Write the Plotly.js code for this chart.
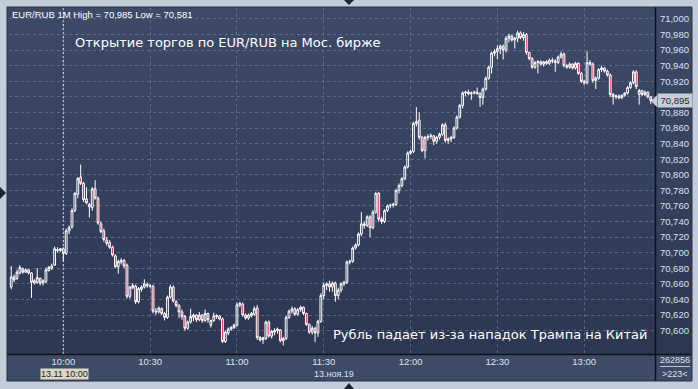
<!DOCTYPE html>
<html><head><meta charset="utf-8">
<script src="https://cdn.plot.ly/plotly-3.0.1.min.js"></script>
<style>html,body{margin:0;padding:0;background:#c3cdd9;}#chart{width:698px;height:389px;}</style>
</head><body><div id="chart"></div>
<script>
const day = "2019-11-13";
const times = [
"09:42","09:43","09:44","09:45","09:46","09:47","09:48","09:49","09:50","09:51","09:52","09:53","09:54","09:55","09:56","09:57","09:58","09:59",
"10:00","10:01","10:02","10:03","10:04","10:05","10:06","10:07","10:08","10:09","10:10","10:11","10:12","10:13","10:14","10:15","10:16","10:17","10:18","10:19",
"10:20","10:21","10:22","10:23","10:24","10:25","10:26","10:27","10:28","10:29","10:30","10:31","10:32","10:33","10:34","10:35","10:36","10:37","10:38","10:39",
"10:40","10:41","10:42","10:43","10:44","10:45","10:46","10:47","10:48","10:49","10:50","10:51","10:52","10:53","10:54","10:55","10:56","10:57","10:58","10:59",
"11:00","11:01","11:02","11:03","11:04","11:05","11:06","11:07","11:08","11:09","11:10","11:11","11:12","11:13","11:14","11:15","11:16","11:17","11:18","11:19",
"11:20","11:21","11:22","11:23","11:24","11:25","11:26","11:27","11:28","11:29","11:30","11:31","11:32","11:33","11:34","11:35","11:36","11:37","11:38","11:39",
"11:40","11:41","11:42","11:43","11:44","11:45","11:46","11:47","11:48","11:49","11:50","11:51","11:52","11:53","11:54","11:55","11:56","11:57","11:58","11:59",
"12:00","12:01","12:02","12:03","12:04","12:05","12:06","12:07","12:08","12:09","12:10","12:11","12:12","12:13","12:14","12:15","12:16","12:17","12:18","12:19",
"12:20","12:21","12:22","12:23","12:24","12:25","12:26","12:27","12:28","12:29","12:30","12:31","12:32","12:33","12:34","12:35","12:36","12:37","12:38","12:39",
"12:40","12:41","12:42","12:43","12:44","12:45","12:46","12:47","12:48","12:49","12:50","12:51","12:52","12:53","12:54","12:55","12:56","12:57","12:58","12:59",
"13:00","13:01","13:02","13:03","13:04","13:05","13:06","13:07","13:08","13:09","13:10","13:11","13:12","13:13","13:14","13:15","13:16","13:17","13:18","13:19",
"13:20","13:21","13:22","13:23"];
const opens = [
70.656,70.669,70.667,70.674,70.679,70.675,70.678,70.674,70.661,70.662,70.667,70.661,70.663,70.677,70.680,70.684,70.704,70.703,70.705,70.699,
70.728,70.733,70.754,70.775,70.797,70.789,70.769,70.762,70.758,70.782,70.770,70.737,70.728,70.716,70.713,70.707,70.696,70.682,70.688,70.690,
70.684,70.644,70.655,70.657,70.637,70.653,70.656,70.659,70.658,70.657,70.625,70.624,70.628,70.622,70.617,70.643,70.656,70.637,70.632,70.624,
70.618,70.603,70.611,70.617,70.620,70.614,70.620,70.613,70.622,70.607,70.613,70.618,70.619,70.615,70.586,70.597,70.602,70.604,70.607,70.633,
70.634,70.620,70.616,70.619,70.621,70.629,70.591,70.588,70.590,70.611,70.593,70.598,70.600,70.601,70.587,70.590,70.617,70.625,70.628,70.621,
70.627,70.630,70.622,70.608,70.598,70.603,70.597,70.612,70.645,70.658,70.660,70.656,70.661,70.645,70.652,70.660,70.662,70.688,70.689,70.706,
70.710,70.724,70.737,70.735,70.746,70.732,70.752,70.776,70.743,70.740,70.754,70.760,70.761,70.762,70.780,70.786,70.795,70.810,70.828,70.830,
70.866,70.870,70.848,70.831,70.848,70.849,70.850,70.843,70.848,70.852,70.864,70.844,70.846,70.848,70.860,70.874,70.889,70.905,70.906,70.904,
70.905,70.906,70.904,70.899,70.910,70.924,70.938,70.956,70.958,70.962,70.965,70.960,70.975,70.978,70.973,70.975,70.982,70.976,70.980,70.957,
70.949,70.938,70.944,70.945,70.942,70.945,70.943,70.947,70.946,70.944,70.951,70.955,70.940,70.938,70.942,70.937,70.943,70.930,70.920,70.918,
70.944,70.942,70.921,70.924,70.935,70.937,70.933,70.928,70.903,70.900,70.901,70.899,70.902,70.905,70.912,70.918,70.932,70.903,70.908,70.903,
70.906,70.900];
const highs = [
70.683,70.672,70.678,70.684,70.681,70.680,70.679,70.675,70.666,70.680,70.668,70.666,70.681,70.683,70.686,70.708,70.707,70.706,70.707,70.731,
70.735,70.757,70.778,70.797,70.813,70.791,70.784,70.764,70.784,70.793,70.772,70.740,70.731,70.720,70.716,70.709,70.698,70.691,70.693,70.692,
70.686,70.657,70.661,70.659,70.656,70.658,70.666,70.662,70.660,70.659,70.629,70.631,70.630,70.624,70.645,70.659,70.658,70.639,70.634,70.627,
70.620,70.613,70.628,70.622,70.621,70.624,70.621,70.627,70.623,70.614,70.623,70.621,70.620,70.617,70.600,70.604,70.606,70.609,70.636,70.637,
70.636,70.622,70.622,70.624,70.631,70.633,70.593,70.592,70.613,70.613,70.601,70.603,70.604,70.602,70.592,70.619,70.627,70.631,70.630,70.629,
70.632,70.631,70.623,70.609,70.606,70.605,70.614,70.648,70.662,70.662,70.664,70.663,70.663,70.655,70.662,70.664,70.690,70.691,70.708,70.712,
70.726,70.752,70.740,70.748,70.748,70.755,70.778,70.778,70.746,70.756,70.762,70.763,70.764,70.782,70.789,70.797,70.812,70.830,70.832,70.868,
70.887,70.880,70.850,70.850,70.852,70.853,70.851,70.850,70.854,70.866,70.867,70.848,70.850,70.862,70.876,70.891,70.907,70.908,70.909,70.907,
70.908,70.912,70.906,70.912,70.926,70.940,70.958,70.961,70.966,70.967,70.967,70.978,70.981,70.980,70.977,70.985,70.984,70.983,70.982,70.958,
70.951,70.946,70.947,70.947,70.946,70.947,70.949,70.950,70.948,70.953,70.958,70.957,70.942,70.944,70.943,70.945,70.944,70.932,70.922,70.958,
70.947,70.944,70.926,70.937,70.940,70.938,70.935,70.930,70.905,70.903,70.903,70.903,70.906,70.914,70.920,70.934,70.934,70.910,70.909,70.908,
70.907,70.901];
const lows = [
70.653,70.662,70.665,70.672,70.673,70.674,70.672,70.642,70.659,70.660,70.658,70.658,70.661,70.676,70.678,70.683,70.700,70.701,70.689,70.697,
70.724,70.731,70.752,70.770,70.787,70.765,70.762,70.745,70.754,70.768,70.736,70.725,70.714,70.709,70.705,70.695,70.680,70.673,70.685,70.680,
70.641,70.641,70.653,70.634,70.635,70.650,70.654,70.655,70.654,70.622,70.620,70.622,70.620,70.613,70.615,70.641,70.636,70.630,70.616,70.614,
70.600,70.601,70.609,70.612,70.611,70.612,70.610,70.611,70.610,70.604,70.611,70.615,70.613,70.584,70.584,70.594,70.600,70.602,70.605,70.630,
70.618,70.614,70.614,70.617,70.619,70.588,70.586,70.583,70.588,70.591,70.590,70.594,70.596,70.585,70.581,70.588,70.615,70.622,70.619,70.619,
70.624,70.620,70.606,70.596,70.595,70.585,70.592,70.610,70.640,70.652,70.650,70.650,70.637,70.640,70.649,70.657,70.660,70.685,70.687,70.704,
70.708,70.721,70.731,70.733,70.720,70.730,70.750,70.740,70.737,70.738,70.752,70.757,70.758,70.760,70.776,70.784,70.793,70.808,70.826,70.828,
70.862,70.845,70.829,70.821,70.844,70.846,70.838,70.840,70.845,70.850,70.841,70.840,70.842,70.846,70.858,70.872,70.885,70.901,70.902,70.896,
70.903,70.903,70.887,70.890,70.908,70.922,70.930,70.952,70.948,70.955,70.948,70.957,70.970,70.971,70.962,70.970,70.974,70.972,70.954,70.947,
70.936,70.936,70.930,70.940,70.939,70.941,70.941,70.943,70.932,70.942,70.949,70.938,70.936,70.936,70.935,70.935,70.928,70.918,70.915,70.916,
70.940,70.918,70.910,70.922,70.932,70.931,70.926,70.900,70.890,70.897,70.897,70.897,70.900,70.903,70.910,70.916,70.910,70.890,70.901,70.901,
70.898,70.891];
const closes = [
70.669,70.665,70.675,70.681,70.675,70.678,70.674,70.662,70.664,70.668,70.661,70.664,70.678,70.681,70.683,70.705,70.703,70.705,70.699,70.728,
70.732,70.754,70.776,70.795,70.789,70.768,70.764,70.759,70.782,70.770,70.738,70.727,70.717,70.712,70.707,70.697,70.682,70.689,70.690,70.683,
70.644,70.656,70.658,70.637,70.654,70.656,70.660,70.658,70.657,70.625,70.624,70.629,70.622,70.617,70.643,70.656,70.638,70.632,70.624,70.618,
70.603,70.611,70.618,70.620,70.614,70.620,70.613,70.622,70.614,70.613,70.619,70.619,70.615,70.586,70.598,70.602,70.604,70.607,70.633,70.635,
70.620,70.616,70.620,70.622,70.628,70.591,70.588,70.591,70.611,70.593,70.599,70.600,70.602,70.587,70.590,70.617,70.625,70.628,70.621,70.627,
70.630,70.622,70.608,70.598,70.603,70.597,70.612,70.645,70.658,70.660,70.656,70.661,70.645,70.652,70.660,70.662,70.688,70.689,70.706,70.710,
70.724,70.737,70.735,70.746,70.732,70.752,70.776,70.743,70.740,70.754,70.760,70.761,70.762,70.780,70.786,70.795,70.810,70.828,70.830,70.866,
70.868,70.848,70.831,70.848,70.849,70.850,70.843,70.848,70.852,70.864,70.844,70.846,70.848,70.860,70.874,70.889,70.905,70.906,70.904,70.905,
70.906,70.904,70.899,70.910,70.924,70.938,70.956,70.958,70.962,70.965,70.960,70.975,70.978,70.973,70.975,70.982,70.976,70.980,70.957,70.949,
70.938,70.944,70.945,70.942,70.945,70.943,70.947,70.946,70.944,70.951,70.955,70.940,70.938,70.942,70.937,70.943,70.930,70.920,70.918,70.944,
70.942,70.921,70.924,70.935,70.937,70.933,70.928,70.903,70.900,70.901,70.899,70.902,70.905,70.912,70.918,70.932,70.913,70.908,70.903,70.906,
70.900,70.895];
const tickTimes = ["10:00","10:30","11:00","11:30","12:00","12:30","13:00"];
const tickLabels = ["10:00","10:30","11:00","11:30","12:00","12:30","13:00"];
const yTickVals = [70.60,70.62,70.64,70.66,70.68,70.70,70.72,70.74,70.76,70.78,70.80,70.82,70.84,70.86,70.88,70.90,70.92,70.94,70.96,70.98,71.00];
const yTickText = ["70,600","70,620","70,640","70,660","70,680","70,700","70,720","70,740","70,760","70,780","70,800","70,820","70,840","70,860","70,880","","70,920","70,940","70,960","70,980","71,000"];
const lastPrice = 70.895;
const lastPriceText = "70,895";
const headerText = "EUR/RUB 1M High = 70,985 Low = 70,581";
const noteTop = "Открытие торгов по EUR/RUB на Мос. бирже";
const noteBottom = "Рубль падает из-за нападок Трампа на Китай";
const cursorTime = "10:00";
const cursorLabel = "13.11 10:00";
const dateLabel = "13.ноя.19";
const volumeLabel = "262856";
const barsLabel = ">223<";

const xs = times.map(t => day + " " + t);

// pixel -> paper helpers (plot area x 9..655, y 8..354)
const PX = x => (x - 9) / 646;
const PY = y => (354 - y) / 346;
const font = "Liberation Sans, Arial, sans-serif";

const grad = 'data:image/svg+xml;utf8,' + encodeURIComponent(
  '<svg xmlns="http://www.w3.org/2000/svg" width="100" height="100" preserveAspectRatio="none">' +
  '<defs><linearGradient id="g" x1="0" y1="0" x2="0" y2="1">' +
  '<stop offset="0" stop-color="#3d4b68"/><stop offset="1" stop-color="#2c3752"/></linearGradient></defs>' +
  '<rect width="100" height="100" fill="url(#g)"/></svg>');

const trace = {
  type: 'candlestick',
  x: xs, open: opens, high: highs, low: lows, close: closes,
  increasing: {line: {color: '#ffffff', width: 1}, fillcolor: 'rgba(0,0,0,0)'},
  decreasing: {line: {color: '#ffffff', width: 1}, fillcolor: '#e3123d'},
  whiskerwidth: 0,
  hoverinfo: 'skip',
  showlegend: false
};

const tri = (pts) => 'M ' + pts.map(p => PX(p[0]) + ',' + PY(p[1])).join(' L ') + ' Z';

const shapes = [
  {type:'rect', xref:'paper', yref:'paper', x0:PX(7), x1:PX(692), y0:PY(354), y1:PY(381), fillcolor:'#3e4b66', line:{width:0}, layer:'below'},
  {type:'line', xref:'x', yref:'paper', x0: day + ' ' + cursorTime, x1: day + ' ' + cursorTime, y0:0, y1:1, line:{color:'rgba(255,255,255,0.9)', width:1, dash:'2px,2px'}, layer:'below'},
  {type:'line', xref:'paper', yref:'paper', x0:PX(7), x1:PX(692), y0:PY(354.5), y1:PY(354.5), line:{color:'#0e121a', width:1.5}},
  {type:'line', xref:'paper', yref:'paper', x0:PX(655.5), x1:PX(655.5), y0:PY(7), y1:PY(381), line:{color:'#0e121a', width:1.5}},
  {type:'line', xref:'paper', yref:'paper', x0:PX(660), x1:PX(690), y0:PY(366.5), y1:PY(366.5), line:{color:'#b8c2d0', width:1}},
  {type:'rect', xref:'paper', yref:'paper', x0:PX(7), x1:PX(692), y0:PY(7), y1:PY(381), line:{color:'#27304a', width:1}, fillcolor:'rgba(0,0,0,0)'},
  {type:'path', xref:'paper', yref:'paper', path: tri([[344,0],[354,0],[349,5]]), fillcolor:'#1c2433', line:{width:0}},
  {type:'path', xref:'paper', yref:'paper', path: tri([[344,389],[354,389],[349,383]]), fillcolor:'#1c2433', line:{width:0}},
  {type:'path', xref:'paper', yref:'paper', path: tri([[0,187],[0,199],[6,193]]), fillcolor:'#1c2433', line:{width:0}},
  {type:'path', xref:'paper', yref:'paper', path: tri([[651,101],[657,95],[657,107]]), fillcolor:'#c7ced8', line:{width:0}}
];

const annotations = [
  {xref:'paper', yref:'paper', x:PX(10), y:PY(15), xanchor:'left', yanchor:'middle', text:headerText, showarrow:false, font:{family:font, size:9.5, color:'#ffffff'}},
  {xref:'paper', yref:'paper', x:PX(73), y:PY(42), xanchor:'left', yanchor:'middle', text:noteTop, showarrow:false, font:{family:'DejaVu Sans, sans-serif', size:13, color:'#ffffff'}},
  {xref:'paper', yref:'paper', x:PX(650), y:PY(334), xanchor:'right', yanchor:'middle', text:noteBottom, showarrow:false, font:{family:'DejaVu Sans, sans-serif', size:13, color:'#ffffff'}},
  {xref:'paper', yref:'paper', x:PX(64), y:PY(374), xanchor:'center', yanchor:'middle', text:cursorLabel, showarrow:false, bgcolor:'#d8d7c2', borderpad:0, font:{family:font, size:9, color:'#1b2230'}},
  {xref:'paper', yref:'paper', x:PX(334), y:PY(374), xanchor:'center', yanchor:'middle', text:dateLabel, showarrow:false, font:{family:font, size:9, color:'#dbe2ea'}},
  {xref:'paper', yref:'paper', x:PX(675), y:PY(360), xanchor:'center', yanchor:'middle', text:volumeLabel, showarrow:false, font:{family:font, size:9, color:'#dbe2ea'}},
  {xref:'paper', yref:'paper', x:PX(675), y:PY(374), xanchor:'center', yanchor:'middle', text:barsLabel, showarrow:false, font:{family:font, size:9, color:'#dbe2ea'}},
  {xref:'paper', yref:'y', x:PX(657), y:lastPrice, xanchor:'left', yanchor:'middle', text:lastPriceText, showarrow:false, bgcolor:'#c7ced8', borderpad:1, width:32, font:{family:font, size:9.5, color:'#1b2436'}}
];

const layout = {
  width: 698, height: 389, autosize: false,
  margin: {l: 9, r: 43, t: 8, b: 35, pad: 0},
  paper_bgcolor: '#c3cdd9',
  plot_bgcolor: 'rgba(0,0,0,0)',
  showlegend: false,
  boxgap: 0.12,
  images: [{source: grad, xref:'paper', yref:'paper', x:PX(7), y:PY(7), sizex:PX(692)-PX(7), sizey:PY(7)-PY(354), xanchor:'left', yanchor:'top', sizing:'stretch', layer:'below'}],
  xaxis: {
    type: 'date',
    range: [day + ' 09:41:14', day + ' 13:24:28'],
    rangeslider: {visible: false},
    tickmode: 'array',
    tickvals: tickTimes.map(t => day + ' ' + t),
    ticktext: tickLabels,
    ticks: '', ticklabelstandoff: 0,
    tickfont: {family: font, size: 9.5, color: '#dbe2ea'},
    showgrid: true, gridcolor: 'rgba(120,138,172,0.55)', griddash: '3px,3px', gridwidth: 1,
    zeroline: false, showline: false, fixedrange: true
  },
  yaxis: {
    side: 'right',
    range: [70.570, 71.014],
    tickmode: 'array',
    tickvals: yTickVals,
    ticktext: yTickText,
    ticks: 'outside', ticklen: 2, tickcolor: 'rgba(0,0,0,0)',
    tickfont: {family: font, size: 9.5, color: '#dbe2ea'},
    showgrid: true, gridcolor: 'rgba(120,138,172,0.55)', griddash: '3px,3px', gridwidth: 1,
    zeroline: false, showline: false, fixedrange: true
  },
  shapes: shapes,
  annotations: annotations
};

Plotly.newPlot('chart', [trace], layout, {staticPlot: true, displayModeBar: false});
</script>
</body></html>
